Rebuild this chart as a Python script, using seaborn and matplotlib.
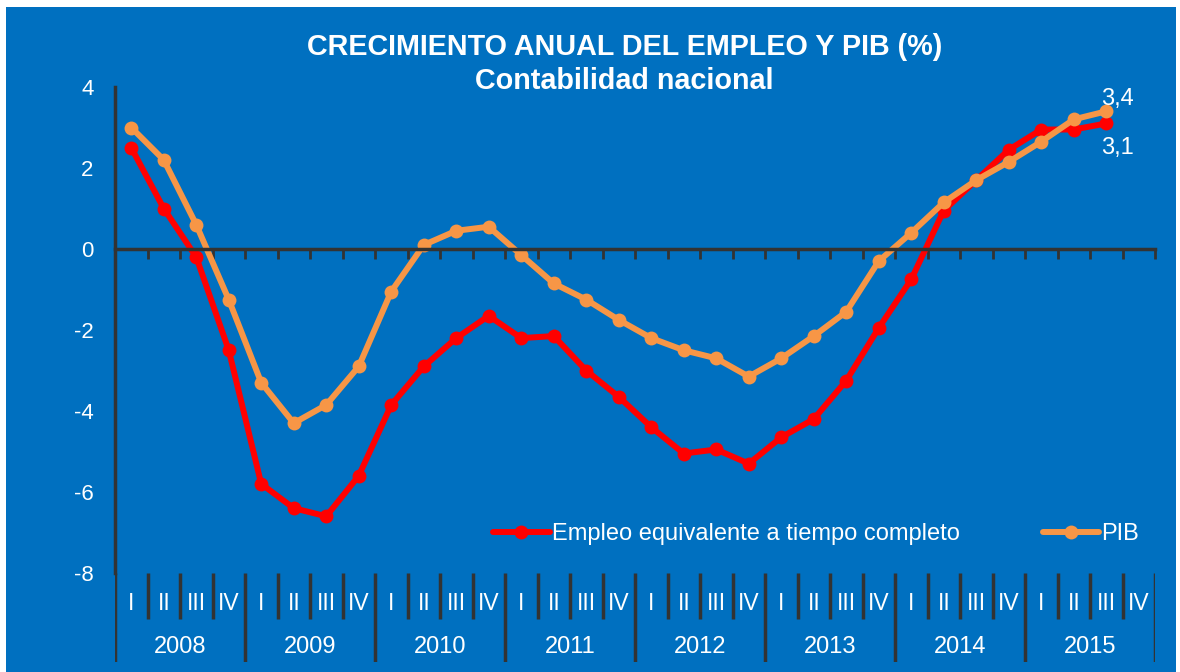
import numpy as np
import pandas as pd
import matplotlib
matplotlib.use("Agg")
import matplotlib.pyplot as plt
import seaborn as sns
from matplotlib.patches import Rectangle

sns.set_theme(style="white")
plt.rcParams["font.family"] = ["Liberation Sans", "DejaVu Sans"]

BG = "#0070C0"
AXIS = "#333333"
RED = "#FF0000"
ORANGE = "#F79646"

years = ["2008", "2009", "2010", "2011", "2012", "2013", "2014", "2015"]
quarters = ["I", "II", "III", "IV"]

# growth rates, % y/y, 2008 I .. 2015 III
empleo = [2.5, 1.0, -0.2, -2.5,
          -5.8, -6.4, -6.6, -5.6,
          -3.85, -2.9, -2.2, -1.65,
          -2.2, -2.15, -3.0, -3.65,
          -4.4, -5.05, -4.95, -5.3,
          -4.65, -4.2, -3.25, -1.95,
          -0.75, 0.95, 1.7, 2.45,
          2.95, 2.95, 3.1]
pib = [3.0, 2.2, 0.6, -1.25,
       -3.3, -4.3, -3.85, -2.9,
       -1.05, 0.1, 0.45, 0.55,
       -0.15, -0.85, -1.25, -1.75,
       -2.2, -2.5, -2.7, -3.15,
       -2.7, -2.15, -1.55, -0.3,
       0.4, 1.15, 1.7, 2.15,
       2.65, 3.2, 3.4]

n_q = len(years) * len(quarters)
df = pd.DataFrame({
    "pos": np.arange(len(empleo)) + 0.5,
    "empleo": empleo,
    "pib": pib,
})

fig = plt.figure(figsize=(11.8, 6.72), dpi=100, facecolor="white")
bg = Rectangle((6 / 1180, 0), 1170 / 1180, 665 / 672, transform=fig.transFigure,
               facecolor=BG, edgecolor="none", zorder=-10)
fig.patches.append(bg)

ax = fig.add_axes([115 / 1180, 1 - 573 / 672, 1040 / 1180, 486 / 672])
ax.set_facecolor("none")

sns.lineplot(data=df, x="pos", y="empleo", ax=ax, color=RED, lw=4.3,
             marker="o", markersize=10, markeredgewidth=0,
             label="Empleo equivalente a tiempo completo")
sns.lineplot(data=df, x="pos", y="pib", ax=ax, color=ORANGE, lw=4.3,
             marker="o", markersize=10, markeredgewidth=0, label="PIB")

ax.set_xlim(0, n_q)
ax.set_ylim(-8, 4)
ax.set_yticks([-8, -6, -4, -2, 0, 2, 4])
ax.set_yticklabels(["-8", "-6", "-4", "-2", "0", "2", "4"])
ax.set_xticks(np.arange(0, n_q + 1))
ax.set_xticklabels([])
ax.set_xlabel("")
ax.set_ylabel("")

for s in ["top", "right"]:
    ax.spines[s].set_visible(False)
ax.spines["bottom"].set_position(("data", 0))
ax.spines["bottom"].set_color(AXIS)
ax.spines["bottom"].set_linewidth(2.5)
ax.spines["left"].set_color(AXIS)
ax.spines["left"].set_linewidth(2.5)
ax.tick_params(axis="x", direction="out", length=7, width=2, color=AXIS, bottom=True)
ax.tick_params(axis="y", length=0, pad=15.5, labelsize=16, labelcolor="white")

ax.annotate("3,4", (df["pos"].iloc[-1], pib[-1]), xytext=(8, 1),
            textcoords="offset points", ha="center", va="bottom",
            color="white", fontsize=17)
ax.annotate("3,1", (df["pos"].iloc[-1], empleo[-1]), xytext=(8, -10),
            textcoords="offset points", ha="center", va="top",
            color="white", fontsize=17)

leg = ax.legend(loc="center left", bbox_to_anchor=((493 - 115) / 1040, (573 - 534) / 486),
                ncol=2, frameon=False, fontsize=17, handlelength=2.4,
                handletextpad=0.1, columnspacing=3.5, borderpad=0, borderaxespad=0)
for t in leg.get_texts():
    t.set_color("white")

# category band below the plot: quarters and years
band = fig.add_axes([115 / 1180, 1 - 662 / 672, 1040 / 1180, 89 / 672], sharex=ax)
band.set_facecolor("none")
band.set_ylim(0, 1)
band.axis("off")
for i in range(n_q + 1):
    if i % 4 == 0:
        band.plot([i, i], [0, 1], color=AXIS, lw=2.5, solid_capstyle="butt")
    else:
        band.plot([i, i], [0.48, 1], color=AXIS, lw=2.5, solid_capstyle="butt")
for i in range(n_q):
    band.text(i + 0.5, 0.655, quarters[i % 4], ha="center", va="center",
              color="white", fontsize=16.5)
for k, y in enumerate(years):
    band.text(4 * k + 2, 0.17, y, ha="center", va="center",
              color="white", fontsize=17)

fig.text(0.529, 1 - 47 / 672, "CRECIMIENTO ANUAL DEL EMPLEO Y PIB (%)",
         ha="center", va="center", color="white", fontsize=20.7, fontweight="bold")
fig.text(0.529, 1 - 81 / 672, "Contabilidad nacional",
         ha="center", va="center", color="white", fontsize=20.7, fontweight="bold")

fig.savefig("out.png", dpi=100, facecolor=fig.get_facecolor())
